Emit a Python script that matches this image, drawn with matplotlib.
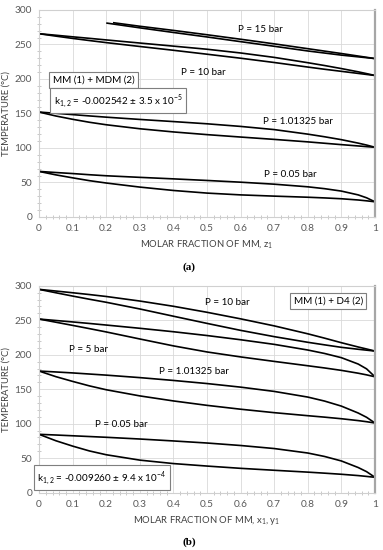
import numpy as np
import matplotlib
matplotlib.use("Agg")
import matplotlib.pyplot as plt
from matplotlib.ticker import MultipleLocator

plt.rcParams["font.family"] = ["Lato", "DejaVu Sans"]
plt.rcParams["mathtext.fontset"] = "custom"
plt.rcParams["mathtext.rm"] = "Lato"

# ===============================
# Data
# ===============================
xg = [0, 0.05, 0.1, 0.15, 0.2, 0.3, 0.4, 0.5, 0.6, 0.7, 0.8, 0.85, 0.9, 0.95, 0.975, 1.0]

# (a) MM (1) + MDM (2)
a_p005_dew = [66, 64.4, 62.9, 61.2, 59.7, 57.4, 55.2, 52.9, 50.4, 47.5, 43.7, 41, 37.5, 32, 27.8, 22]
a_p005_bub = [66, 61, 56.7, 52.6, 49.2, 43.3, 38.4, 34.6, 32, 30.2, 28.6, 27.6, 26.4, 24.6, 23.4, 22]
a_p1_dew = [152, 150.2, 148.3, 146.4, 144.6, 141.3, 138.2, 135, 131.2, 126.6, 120, 116.2, 112, 107, 104.2, 101]
a_p1_bub = [152, 146.3, 141.5, 137.2, 133.6, 127.8, 123.2, 119.3, 115.8, 112.4, 108.8, 106.8, 104.8, 102.9, 101.9, 101]
a_p10_dew = [265.5, 263.3, 261, 258.8, 256.5, 252, 247.5, 243, 237.6, 231.2, 223.5, 219.4, 215, 210.3, 207.7, 205]
a_p10_bub = [265.5, 262, 258.7, 255.6, 252.6, 247, 241.5, 235.8, 230, 223.8, 217.2, 214, 211, 208, 206.5, 205]
a_p15_x_dew = [0.22, 0.3, 0.4, 0.5, 0.6, 0.7, 0.8, 0.9, 1.0]
a_p15_dew = [281.5, 276.3, 270.3, 264, 257.5, 250.8, 243.8, 236.8, 229.5]
a_p15_x_bub = [0.2, 0.3, 0.4, 0.5, 0.6, 0.7, 0.8, 0.9, 1.0]
a_p15_bub = [281, 274, 267.3, 260.8, 254, 247.3, 240.5, 234.5, 229.5]

# (b) MM (1) + D4 (2)
b_p005_dew = [84.6, 83.6, 82.5, 81.4, 80.3, 77.8, 75, 72, 68.4, 64, 57.5, 52.5, 46, 36.5, 30.5, 22.3]
b_p005_bub = [84.6, 75.3, 67.5, 60.5, 55, 47.2, 42.2, 38.6, 35.3, 32.5, 29.8, 28.3, 26.7, 24.8, 23.6, 22.3]
b_p1_dew = [176.3, 175, 173.6, 172, 170.4, 166.8, 162.7, 158.2, 153, 146.8, 138.6, 132.8, 125.5, 115.5, 109.3, 101]
b_p1_bub = [176.3, 168.2, 161.3, 154.8, 149.2, 140.3, 133, 126.6, 121, 116, 111.6, 109.5, 107.2, 104.5, 102.9, 101]
b_p5_dew = [251.7, 249.6, 247.5, 245.3, 243, 238.3, 233.3, 227.8, 221.7, 215, 206.8, 201.8, 195.7, 186.5, 179.5, 168]
b_p5_bub = [251.7, 247.1, 242.5, 237.8, 233, 222.8, 212.8, 204, 196.8, 190.3, 184, 180.8, 177.3, 173.2, 170.8, 168]
b_p10_dew = [294.7, 292.3, 289.8, 287.2, 284.4, 277.8, 270.2, 261.5, 252, 241.8, 230.3, 224, 217.4, 211.2, 208.3, 205.3]
b_p10_bub = [294.7, 289.8, 285, 280.4, 276, 266.3, 255.8, 245.4, 235.3, 226.2, 218, 214.3, 210.7, 207.9, 206.6, 205.3]

xticklabels = ["0", "0.1", "0.2", "0.3", "0.4", "0.5", "0.6", "0.7", "0.8", "0.9", "1"]


def style_axes(ax, xlabel):
    ax.set_xlim(0, 1)
    ax.set_ylim(0, 300)
    ax.xaxis.set_minor_locator(MultipleLocator(0.02))
    ax.yaxis.set_major_locator(MultipleLocator(50))
    ax.yaxis.set_minor_locator(MultipleLocator(10))
    ax.set_xticks(np.arange(0, 1.01, 0.1))
    ax.set_xticklabels(xticklabels)
    ax.grid(True, which="major", color="#d9d9d9", lw=0.6)
    ax.tick_params(which="major", labelsize=7.3, colors="#595959", length=0, pad=5)
    ax.tick_params(which="minor", length=2.5, color="#bfbfbf", direction="inout")
    for s in ["top", "left", "bottom"]:
        ax.spines[s].set_color("#d0d0d0")
        ax.spines[s].set_linewidth(0.8)
    ax.spines["right"].set_color("#a6a6a6")
    ax.spines["right"].set_linewidth(1.6)
    ax.set_ylabel("TEMPERATURE (°C)", fontsize=6.8, color="#404040", labelpad=3)
    ax.set_xlabel(xlabel, fontsize=6.8, color="#404040", labelpad=4)


def curve(ax, x, y):
    ax.plot(x, y, color="black", lw=1.2, solid_capstyle="butt", solid_joinstyle="round")


box = dict(boxstyle="square,pad=0.35", fc="white", ec="#7f7f7f", lw=0.8)
fs = 7.1

fig = plt.figure(figsize=(3.83, 5.5), dpi=100)

# ----- (a) -----
ax1 = fig.add_axes([0.102, 0.6055, 0.877, 0.3765])
curve(ax1, xg, a_p005_dew)
curve(ax1, xg, a_p005_bub)
curve(ax1, xg, a_p1_dew)
curve(ax1, xg, a_p1_bub)
curve(ax1, xg, a_p10_dew)
curve(ax1, xg, a_p10_bub)
curve(ax1, a_p15_x_dew, a_p15_dew)
curve(ax1, a_p15_x_bub, a_p15_bub)
style_axes(ax1, r"MOLAR FRACTION OF MM, z$_{\mathregular{1}}$")
ax1.text(0.658, 272, "P = 15 bar", fontsize=fs, ha="center", va="center")
ax1.text(0.489, 209.7, "P = 10 bar", fontsize=fs, ha="center", va="center")
ax1.text(0.772, 138, "P = 1.01325 bar", fontsize=fs, ha="center", va="center")
ax1.text(0.747, 61, "P = 0.05 bar", fontsize=fs, ha="center", va="center")
ax1.text(0.162, 198, "MM (1) + MDM (2)", fontsize=fs, ha="center", va="center", bbox=box)
ax1.text(0.236, 168.5, r"k$_{\mathregular{1,2}}$ = -0.002542 ± 3.5 x 10$^{\mathregular{-5}}$",
         fontsize=fs, ha="center", va="center", bbox=box)

# ----- (b) -----
ax2 = fig.add_axes([0.102, 0.1042, 0.877, 0.3763])
curve(ax2, xg, b_p005_dew)
curve(ax2, xg, b_p005_bub)
curve(ax2, xg, b_p1_dew)
curve(ax2, xg, b_p1_bub)
curve(ax2, xg, b_p5_dew)
curve(ax2, xg, b_p5_bub)
curve(ax2, xg, b_p10_dew)
curve(ax2, xg, b_p10_bub)
style_axes(ax2, r"MOLAR FRACTION OF MM, x$_{\mathregular{1}}$, y$_{\mathregular{1}}$")
ax2.text(0.559, 275, "P = 10 bar", fontsize=fs, ha="center", va="center")
ax2.text(0.147, 207.8, "P = 5 bar", fontsize=fs, ha="center", va="center")
ax2.text(0.46, 175.3, "P = 1.01325 bar", fontsize=fs, ha="center", va="center")
ax2.text(0.246, 99.5, "P = 0.05 bar", fontsize=fs, ha="center", va="center")
ax2.text(0.861, 277.8, "MM (1) + D4 (2)", fontsize=fs, ha="center", va="center", bbox=box)
ax2.text(0.187, 21.8, r"k$_{\mathregular{1,2}}$ = -0.009260 ± 9.4 x 10$^{\mathregular{-4}}$",
         fontsize=fs, ha="center", va="center", bbox=box)

# captions
fig.text(189 / 383, 1 - 266.7 / 550, "(a)", fontsize=8, fontweight="bold",
         family="Liberation Serif", ha="center", va="center")
fig.text(189 / 383, 1 - 541.7 / 550, "(b)", fontsize=8, fontweight="bold",
         family="Liberation Serif", ha="center", va="center")

fig.savefig("out.png", dpi=100)
